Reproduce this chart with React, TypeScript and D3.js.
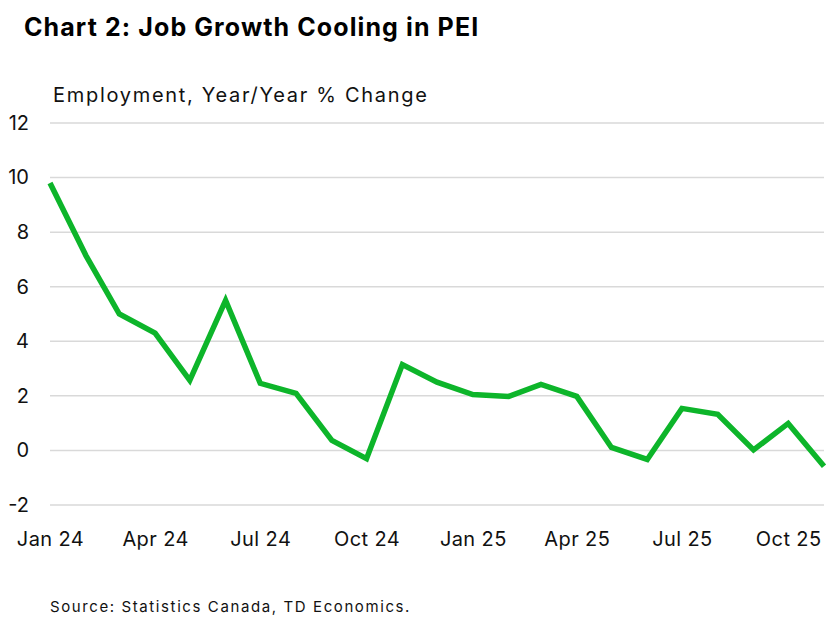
import * as d3 from "d3";
import { useEffect, useRef } from "react";

// Employment, y/y % change, PEI (Jan 2024 - Nov 2025)
const months = [
  "2024-01", "2024-02", "2024-03", "2024-04", "2024-05", "2024-06",
  "2024-07", "2024-08", "2024-09", "2024-10", "2024-11", "2024-12",
  "2025-01", "2025-02", "2025-03", "2025-04", "2025-05", "2025-06",
  "2025-07", "2025-08", "2025-09", "2025-10", "2025-11",
];
const values = [
  9.8, 7.15, 5.0, 4.3, 2.57, 5.5,
  2.46, 2.09, 0.37, -0.3, 3.15, 2.5,
  2.05, 1.98, 2.42, 1.98, 0.11, -0.33,
  1.54, 1.32, 0.02, 0.99, -0.58,
];
const yTicks = [-2, 0, 2, 4, 6, 8, 10, 12];
const xTickMonths = ["2024-01", "2024-04", "2024-07", "2024-10", "2025-01", "2025-04", "2025-07", "2025-10"];

const FONT = "Inter, 'Noto Sans', Arial, sans-serif";

export default function App() {
  const ref = useRef<SVGSVGElement>(null);

  useEffect(() => {
    document.body.style.margin = "0";
    if (!ref.current) return;

    const width = 827;
    const height = 617;
    const margin = { top: 123, right: 3, bottom: 112, left: 50 };

    const svg = d3.select(ref.current);
    svg.selectAll("*").remove();

    const parse = d3.timeParse("%Y-%m");
    const data = months.map((m, i) => ({ date: parse(m)!, value: values[i] }));

    const x = d3
      .scaleTime()
      .domain([data[0].date, data[data.length - 1].date])
      .range([margin.left, width - margin.right]);

    const y = d3
      .scaleLinear()
      .domain([-2, 12])
      .range([height - margin.bottom, margin.top]);

    // -----------------------------
    // Title + subtitle
    svg
      .append("text")
      .attr("x", 24)
      .attr("y", 36)
      .style("font-family", FONT)
      .style("font-size", "25px")
      .style("font-weight", "700")
      .style("letter-spacing", "1.1px")
      .style("fill", "#000")
      .text("Chart 2: Job Growth Cooling in PEI");

    svg
      .append("text")
      .attr("x", 53)
      .attr("y", 102)
      .style("font-family", FONT)
      .style("font-size", "20px")
      .style("letter-spacing", "1.7px")
      .style("fill", "#111")
      .text("Employment, Year/Year % Change");

    // -----------------------------
    // Gridlines
    svg
      .append("g")
      .selectAll("line")
      .data(yTicks)
      .join("line")
      .attr("x1", margin.left)
      .attr("x2", width - margin.right)
      .attr("y1", (d) => y(d))
      .attr("y2", (d) => y(d))
      .attr("stroke", "#d9d9d9")
      .attr("stroke-width", 1.5);

    // -----------------------------
    // Y axis labels
    const yAxis = svg
      .append("g")
      .attr("transform", `translate(29,0)`)
      .call(d3.axisLeft(y).tickValues(yTicks).tickSize(0).tickPadding(0).tickFormat((d) => `${d}`));
    yAxis.select(".domain").remove();
    yAxis
      .selectAll("text")
      .style("font-family", FONT)
      .style("font-size", "20px")
      .style("fill", "#111");

    // -----------------------------
    // X axis labels
    const fmt = d3.timeFormat("%b %y");
    const xAxis = svg
      .append("g")
      .attr("transform", `translate(0,${height - margin.bottom + 27})`)
      .call(
        d3
          .axisBottom(x)
          .tickValues(xTickMonths.map((m) => parse(m)!))
          .tickSize(0)
          .tickPadding(0)
          .tickFormat((d) => fmt(d as Date))
      );
    xAxis.select(".domain").remove();
    xAxis
      .selectAll("text")
      .style("font-family", FONT)
      .style("font-size", "20px")
      .style("letter-spacing", "0.4px")
      .style("fill", "#111");

    // -----------------------------
    // Line
    const line = d3
      .line<{ date: Date; value: number }>()
      .x((d) => x(d.date))
      .y((d) => y(d.value));

    svg
      .append("path")
      .datum(data)
      .attr("d", line)
      .attr("fill", "none")
      .attr("stroke", "#0db52a")
      .attr("stroke-width", 5.5)
      .attr("stroke-linejoin", "miter")
      .attr("stroke-linecap", "butt");

    // -----------------------------
    // Source
    svg
      .append("text")
      .attr("x", 50)
      .attr("y", 612)
      .style("font-family", FONT)
      .style("font-size", "15px")
      .style("letter-spacing", "1.6px")
      .style("fill", "#111")
      .text("Source: Statistics Canada, TD Economics.");
  }, []);

  return <svg ref={ref} width={827} height={617} style={{ display: "block", background: "#fff" }} />;
}
